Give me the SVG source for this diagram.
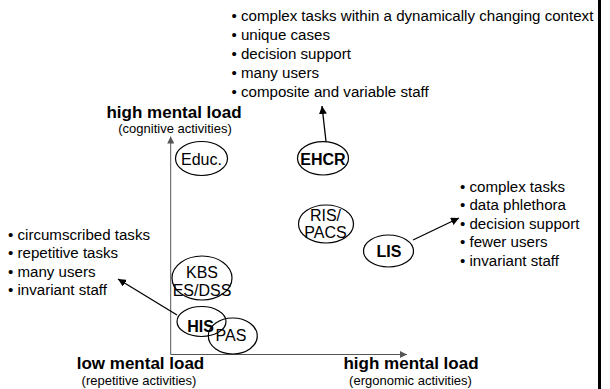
<svg xmlns="http://www.w3.org/2000/svg" width="610" height="389" viewBox="0 0 610 389">
  <defs>
    <marker id="axisHead" viewBox="0 0 10 10" refX="10" refY="5" markerWidth="7" markerHeight="7" markerUnits="userSpaceOnUse" orient="auto">
      <path d="M0,0 L10,5 L0,10 z" fill="#555"/>
    </marker>
    <marker id="arrowHead" viewBox="0 0 10 10" refX="10" refY="5" markerWidth="8" markerHeight="8" markerUnits="userSpaceOnUse" orient="auto">
      <path d="M0,0 L10,5 L0,10 z" fill="#000"/>
    </marker>
  </defs>
  <style>
    text { font-family: "Liberation Sans", Arial, sans-serif; fill: #000; }
    .bullet { font-size: 15.1px; }
    .node { font-size: 16px; text-anchor: middle; }
    .bold { font-weight: bold; }
    .axisTitle { font-size: 17px; font-weight: bold; text-anchor: middle; }
    .axisSub { font-size: 13px; text-anchor: middle; }
    ellipse { fill: none; stroke: #000; stroke-width: 1.2; }
    .axis { stroke: #555; stroke-width: 1; fill: none; }
    .conn { stroke: #000; stroke-width: 1.3; fill: none; }
  </style>

  <rect width="610" height="389" fill="#fff"/>
  <!-- right edge bar -->
  <rect x="598" y="0" width="3" height="389" fill="#000"/>

  <!-- axes -->
  <g id="axes">
    <line class="axis" x1="170.7" y1="354.5" x2="170.7" y2="136.5" marker-end="url(#axisHead)"/>
    <line class="axis" x1="170.7" y1="354.5" x2="407" y2="354.5" marker-end="url(#axisHead)"/>
    <text class="axisTitle" x="174" y="118">high mental load</text>
    <text class="axisSub" x="175" y="132.5">(cognitive activities)</text>
    <text class="axisTitle" x="140.5" y="368.5">low mental load</text>
    <text class="axisSub" x="139" y="385">(repetitive activities)</text>
    <text class="axisTitle" x="411" y="368.5">high mental load</text>
    <text class="axisSub" x="410.5" y="385">(ergonomic activities)</text>
  </g>

  <!-- connectors -->
  <g id="connectors">
    <line class="conn" x1="326" y1="141.5" x2="322" y2="106" marker-end="url(#arrowHead)"/>
    <line class="conn" x1="413" y1="240" x2="459" y2="218" marker-end="url(#arrowHead)"/>
    <line class="conn" x1="177" y1="315" x2="118" y2="279" marker-end="url(#arrowHead)"/>
  </g>

  <!-- nodes -->
  <g id="educ">
    <ellipse cx="201.5" cy="158.5" rx="26" ry="17"/>
    <text class="node" x="201.5" y="164.5">Educ.</text>
  </g>
  <g id="ehcr">
    <ellipse cx="323" cy="158.3" rx="25.5" ry="16.7"/>
    <text class="node bold" x="323" y="164.5">EHCR</text>
  </g>
  <g id="ris-pacs">
    <ellipse cx="326" cy="224" rx="27.5" ry="19"/>
    <text class="node" x="325.5" y="221">RIS/</text>
    <text class="node" x="325.5" y="237.5">PACS</text>
  </g>
  <g id="lis">
    <ellipse cx="388.5" cy="251" rx="25" ry="16"/>
    <text class="node bold" x="389" y="257">LIS</text>
  </g>
  <g id="kbs">
    <ellipse cx="202" cy="278" rx="30" ry="22"/>
    <text class="node" x="202" y="277.5">KBS</text>
    <text class="node" x="202" y="296">ES/DSS</text>
  </g>
  <g id="his">
    <ellipse cx="201.5" cy="321.5" rx="24.5" ry="15"/>
    <text class="node bold" x="200.5" y="332">HIS</text>
  </g>
  <g id="pas">
    <ellipse cx="232.8" cy="336" rx="24.5" ry="18"/>
    <text class="node" x="231" y="341">PAS</text>
  </g>

  <!-- characteristics lists -->
  <g id="list-top">
    <text class="bullet" x="231.5" y="21">• complex tasks within a dynamically changing context</text>
    <text class="bullet" x="231.5" y="40">• unique cases</text>
    <text class="bullet" x="231.5" y="59">• decision support</text>
    <text class="bullet" x="231.5" y="78">• many users</text>
    <text class="bullet" x="231.5" y="97">• composite and variable staff</text>
  </g>
  <g id="list-left">
    <text class="bullet" x="8" y="239.5">• circumscribed tasks</text>
    <text class="bullet" x="8" y="258">• repetitive tasks</text>
    <text class="bullet" x="8" y="276.5">• many users</text>
    <text class="bullet" x="8" y="295">• invariant staff</text>
  </g>
  <g id="list-right">
    <text class="bullet" x="460" y="191.5">• complex tasks</text>
    <text class="bullet" x="460" y="210">• data phlethora</text>
    <text class="bullet" x="460" y="228.5">• decision support</text>
    <text class="bullet" x="460" y="247">• fewer users</text>
    <text class="bullet" x="460" y="265.5">• invariant staff</text>
  </g>
</svg>
